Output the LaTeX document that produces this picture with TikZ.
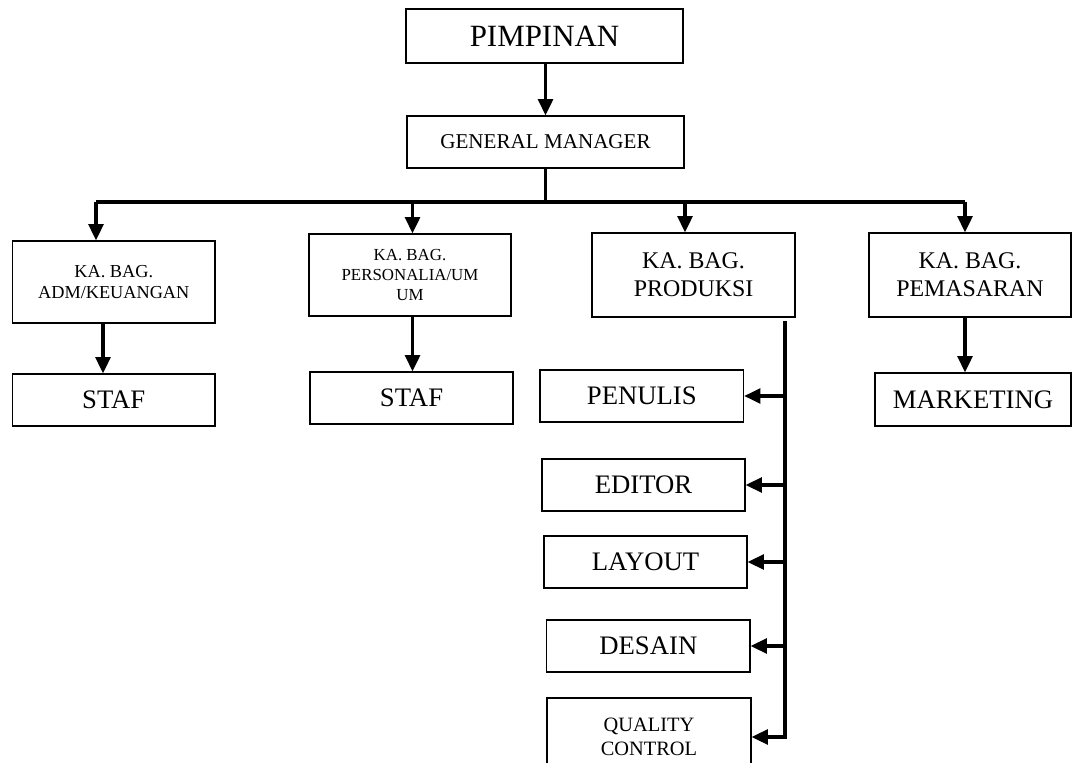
\documentclass[tikz,border=0pt]{standalone}
\usepackage{fontspec}
\setmainfont{Liberation Serif}
\usetikzlibrary{arrows.meta}
\tikzset{
  box/.style={draw=black, line width=0.85pt, inner sep=0pt, align=center},
  conn/.style={line width=2.2pt},
  arr/.style={conn, -{Triangle[length=11.5pt,width=10.5pt]}},
}

\begin{document}
\begin{tikzpicture}
\useasboundingbox (0,0) rectangle (26.8,19.05);
% top
\node[box, minimum width=6.925cm, minimum height=1.35cm, font=\fontsize{22}{26}\selectfont] (pimpinan) at (13.613,18.150) {PIMPINAN};
\node[box, minimum width=6.925cm, minimum height=1.30cm, font=\fontsize{15}{18}\selectfont] (general) at (13.638,15.500) {GENERAL MANAGER};
% kepala bagian
\node[box, minimum width=5.063cm, minimum height=2.05cm, font=\fontsize{13}{15}\selectfont] (kaadm) at (2.844,12.000) {KA. BAG.\\ADM/KEUANGAN};
\node[box, minimum width=5.050cm, minimum height=2.05cm, font=\fontsize{12}{14}\selectfont] (kapers) at (10.250,12.175) {KA. BAG.\\PERSONALIA/UM\\UM};
\node[box, minimum width=5.075cm, minimum height=2.10cm, font=\fontsize{17}{20}\selectfont] (kaprod) at (17.338,12.175) {KA. BAG.\\PRODUKSI};
\node[box, minimum width=5.050cm, minimum height=2.10cm, font=\fontsize{17}{20}\selectfont] (kapemas) at (24.250,12.175) {KA. BAG.\\PEMASARAN};
% staf
\node[box, minimum width=5.063cm, minimum height=1.30cm, font=\fontsize{19}{22}\selectfont] (stafadm) at (2.844,9.050) {STAF};
\node[box, minimum width=5.075cm, minimum height=1.30cm, font=\fontsize{19}{22}\selectfont] (stafpers) at (10.288,9.100) {STAF};
\node[box, minimum width=4.900cm, minimum height=1.325cm, font=\fontsize{19}{22}\selectfont] (marketing) at (24.325,9.063) {MARKETING};
% produksi
\node[box, minimum width=5.090cm, minimum height=1.30cm, font=\fontsize{19}{22}\selectfont] (penulis) at (16.045,9.150) {PENULIS};
\node[box, minimum width=5.075cm, minimum height=1.30cm, font=\fontsize{19}{22}\selectfont] (editor) at (16.088,6.925) {EDITOR};
\node[box, minimum width=5.075cm, minimum height=1.30cm, font=\fontsize{19}{22}\selectfont] (layout) at (16.138,5.000) {LAYOUT};
\node[box, minimum width=5.085cm, minimum height=1.30cm, font=\fontsize{19}{22}\selectfont] (desain) at (16.208,2.900) {DESAIN};
\node[box, minimum width=5.100cm, minimum height=1.95cm, font=\fontsize{14.5}{17.5}\selectfont] (qc) at (16.225,0.625) {QUALITY\\CONTROL};
\coordinate (busL) at (2.400,14.000);
\coordinate (busR) at (24.125,14.000);
\coordinate (trunk) at (19.625,0.000);
% connectors
\draw[arr] (pimpinan.south) -- (general.south |- pimpinan.south) -- (general.north);
\draw[conn] (general.south) -- (general.south |- busL);
\draw[conn] (busL) -- (busR);
\foreach \x/\n in {2.400/kaadm, 10.313/kapers, 17.125/kaprod, 24.125/kapemas}
  \draw[arr] (\x,14.000) -- (\x,0 |- \n.north);
\foreach \x/\a/\b in {2.575/kaadm/stafadm, 10.313/kapers/stafpers, 24.125/kapemas/marketing}
  \draw[arr] (\x,0 |- \a.south) -- (\x,0 |- \b.north);
\draw[arr] ([yshift=-0.8mm]trunk |- kaprod.south) -- (trunk |- qc.east) -- (qc.east);
\foreach \n in {penulis,editor,layout,desain}
  \draw[arr] (trunk |- \n.east) -- (\n.east);
\end{tikzpicture}
\end{document}
